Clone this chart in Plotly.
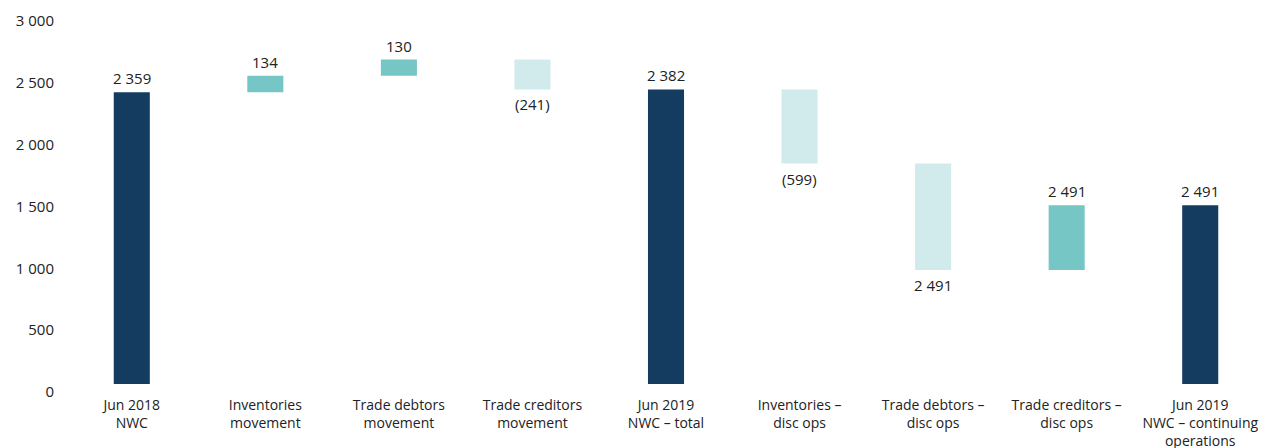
import plotly.graph_objects as go

# Net working capital bridge (R million)
categories = [
    "Jun 2018<br>NWC",
    "Inventories<br>movement",
    "Trade debtors<br>movement",
    "Trade creditors<br>movement",
    "Jun 2019<br>NWC – total",
    "Inventories –<br>disc ops",
    "Trade debtors –<br>disc ops",
    "Trade creditors –<br>disc ops",
    "Jun 2019<br>NWC – continuing<br>operations",
]
measures = ["absolute", "relative", "relative", "relative", "total",
            "relative", "relative", "relative", "total"]
values = [2359, 134, 130, -241, 0, -599, -861, 524, 0]
value_labels = ["2 359", "134", "130", "(241)", "2 382",
                "(599)", "2 491", "2 491", "2 491"]
y_ticks = [0, 500, 1000, 1500, 2000, 2500, 3000]
y_tick_text = ["0", "500", "1 000", "1 500", "2 000", "2 500", "3 000"]

NAVY = "#133C60"
TEAL = "#77C6C6"
PALE = "#D1EAEB"
TEXT = "#222222"
FONT = "Open Sans"

fig = go.Figure(go.Waterfall(
    x=categories,
    measure=measures,
    y=values,
    width=0.27,
    increasing=dict(marker=dict(color=TEAL)),
    decreasing=dict(marker=dict(color=PALE)),
    totals=dict(marker=dict(color=NAVY)),
    connector=dict(visible=False),
    hoverinfo="skip",
))

# running totals give each bar's top and bottom for its label
running = 0
for cat, m, v, lab in zip(categories, measures, values, value_labels):
    if m == "absolute":
        start, end = 0, v
    elif m == "total":
        start, end = 0, running
    else:
        start, end = running, running + v
    running = end
    top, bottom = max(start, end), min(start, end)
    below = m == "relative" and v < 0
    fig.add_annotation(
        x=cat, y=bottom if below else top,
        text=lab, showarrow=False,
        yanchor="top" if below else "bottom",
        yshift=-3 if below else 2,
        font=dict(family=FONT, size=15, color=TEXT),
    )

fig.update_layout(
    width=1272, height=448,
    margin=dict(l=65, r=5, t=13, b=64),
    paper_bgcolor="white", plot_bgcolor="white",
    showlegend=False,
    font=dict(family=FONT, size=14, color=TEXT),
)
fig.update_xaxes(
    range=[-0.5, 8.5], showgrid=False, showline=False, zeroline=False,
    ticks="", tickfont=dict(family=FONT, size=14, color=TEXT),
    ticklabelstandoff=11, automargin=False,
)
fig.update_yaxes(
    range=[0, 3000], showgrid=False, showline=False, zeroline=False,
    tickvals=y_ticks, ticktext=y_tick_text, ticks="",
    tickfont=dict(family=FONT, size=15, color=TEXT),
    ticklabelshift=8, ticklabelstandoff=10, automargin=False,
)

fig.write_html("out.html")
